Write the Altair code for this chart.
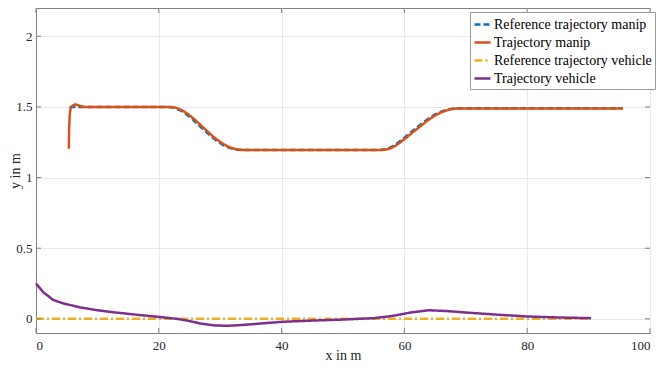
import altair as alt
import pandas as pd

SERIES = ["Reference trajectory manip", "Trajectory manip",
          "Reference trajectory vehicle", "Trajectory vehicle"]
COLORS = ["#0072BD", "#D95319", "#EDB120", "#7E2F8E"]
DASHES = [[6, 3], [1, 0], [8, 3, 2, 3], [1, 0]]

ref_manip_x = [5.45, 21.5, 22.5, 23.5, 24.5, 25.5, 26.5, 27.5, 28.5, 29.5, 30.5, 31.5, 32.5, 33.5,
               56, 57, 58, 59, 60, 61, 62, 63, 64, 65, 66, 67, 68, 69, 95.5]
ref_manip_y = [1.50, 1.50, 1.494, 1.476, 1.448, 1.412, 1.372, 1.332, 1.292, 1.258, 1.23, 1.21, 1.199, 1.195,
               1.195, 1.20, 1.218, 1.248, 1.282, 1.318, 1.353, 1.388, 1.42, 1.447, 1.467, 1.481, 1.488, 1.49, 1.49]

traj_manip_x = [5.35, 5.4, 5.5, 5.65, 6.0, 6.4, 7.0, 7.8, 21.8, 22.8, 23.8, 24.8, 25.8, 26.8, 27.8, 28.8,
                29.8, 30.8, 31.8, 32.8, 33.8, 56.3, 57.3, 58.3, 59.3, 60.3, 61.3, 62.3, 63.3, 64.3, 65.3,
                66.3, 67.3, 68.3, 69.3, 95.6]
traj_manip_y = [1.204, 1.35, 1.45, 1.49, 1.51, 1.518, 1.51, 1.50, 1.50, 1.494, 1.476, 1.448, 1.412, 1.372,
                1.332, 1.292, 1.258, 1.23, 1.21, 1.199, 1.195, 1.195, 1.20, 1.218, 1.248, 1.282, 1.318,
                1.353, 1.388, 1.42, 1.447, 1.467, 1.481, 1.488, 1.489, 1.489]

ref_veh_x = [0, 90.4]
ref_veh_y = [0, 0]

traj_veh_x = [0, 1.2, 2.8, 4.4, 7.1, 9.7, 13, 16.7, 20.4, 23, 25, 27, 29, 31, 33, 36, 40, 45, 50,
              55, 58, 61, 64, 67, 70, 75, 80, 85, 90.4]
traj_veh_y = [0.25, 0.188, 0.134, 0.11, 0.082, 0.063, 0.045, 0.028, 0.012, 0.0, -0.015, -0.035, -0.046,
              -0.049, -0.045, -0.035, -0.021, -0.012, -0.005, 0.005, 0.02, 0.045, 0.061, 0.055, 0.045,
              0.03, 0.017, 0.01, 0.005]

x_ticks = [0, 20, 40, 60, 80, 100]
y_ticks = [0, 0.5, 1, 1.5, 2]

rows = []
for name, xs, ys in [(SERIES[0], ref_manip_x, ref_manip_y),
                     (SERIES[1], traj_manip_x, traj_manip_y),
                     (SERIES[2], ref_veh_x, ref_veh_y),
                     (SERIES[3], traj_veh_x, traj_veh_y)]:
    for i, (a, b) in enumerate(zip(xs, ys)):
        rows.append({"series": name, "x": a, "y": b, "i": i, "k": SERIES.index(name)})
df = pd.DataFrame(rows)

W, H = 614, 325
FONT = "Liberation Serif"
AX = "#808080"
TXT = "#262626"

xs = alt.Scale(domain=[0, 100], nice=False)
ys = alt.Scale(domain=[-0.1, 2.2], nice=False)

lines = alt.Chart(df).mark_line(strokeWidth=2.5).encode(
    x=alt.X("x:Q", scale=xs, title="x in m",
            axis=alt.Axis(values=x_ticks, grid=True, tickSize=0, labelPadding=6,
                          titleY=15, titleBaseline="top",
                          labelFont=FONT, labelFontSize=13, labelColor=TXT,
                          titleFont=FONT, titleFontSize=14, titleFontWeight="normal", titleColor=TXT)),
    y=alt.Y("y:Q", scale=ys, title="y in m",
            axis=alt.Axis(values=y_ticks, grid=True, tickSize=0, labelPadding=4,
                          titleX=-14, titleY=H / 2, titleAngle=270, titleBaseline="bottom",
                          titleAlign="center",
                          labelExpr="datum.value == 0 ? '0' : format(datum.value, '.1~f')",
                          labelFont=FONT, labelFontSize=13, labelColor=TXT,
                          titleFont=FONT, titleFontSize=14, titleFontWeight="normal", titleColor=TXT)),
    color=alt.Color("series:N", scale=alt.Scale(domain=SERIES, range=COLORS),
                    legend=alt.Legend(title=None, orient="none", legendX=434, legendY=4)),
    strokeDash=alt.StrokeDash("series:N", scale=alt.Scale(domain=SERIES, range=DASHES),
                              legend=alt.Legend(title=None, orient="none", legendX=434, legendY=4)),
    order="i:Q",
    detail="k:Q",
)

xt = pd.DataFrame({"x": x_ticks})
yt = pd.DataFrame({"y": y_ticks})
xb = alt.Chart(xt).mark_rule(color=AX, strokeWidth=1).encode(x=alt.X("x:Q", scale=xs), y=alt.value(H), y2=alt.value(H - 5))
xtop = alt.Chart(xt).mark_rule(color=AX, strokeWidth=1).encode(x=alt.X("x:Q", scale=xs), y=alt.value(0), y2=alt.value(5))
yl = alt.Chart(yt).mark_rule(color=AX, strokeWidth=1).encode(y=alt.Y("y:Q", scale=ys), x=alt.value(0), x2=alt.value(5))
yr = alt.Chart(yt).mark_rule(color=AX, strokeWidth=1).encode(y=alt.Y("y:Q", scale=ys), x=alt.value(W - 5), x2=alt.value(W))

chart = alt.layer(lines, xb, xtop, yl, yr).properties(
    width=W, height=H,
    autosize=alt.AutoSizeParams(type="none"),
    padding={"left": 28, "top": 0, "right": 10, "bottom": 30},
).configure(font=FONT).configure_view(stroke=AX, strokeWidth=1).configure_axis(
    labelFont=FONT, labelFontSize=13, labelColor=TXT,
    titleFont=FONT, titleFontSize=14, titleFontWeight="normal", titleColor=TXT,
    domainColor=AX, domainWidth=1, gridColor="#e8e8e8", gridWidth=1,
).configure_legend(
    symbolType="stroke", symbolSize=256, symbolStrokeWidth=2.5,
    labelFont=FONT, labelFontSize=14, labelColor="#000000", labelOffset=2,
    strokeColor="#999999", fillColor="#ffffff", padding=3, rowPadding=1, labelLimit=400,
)

chart.save("out.html", embed_options={"renderer": "svg", "actions": False})
